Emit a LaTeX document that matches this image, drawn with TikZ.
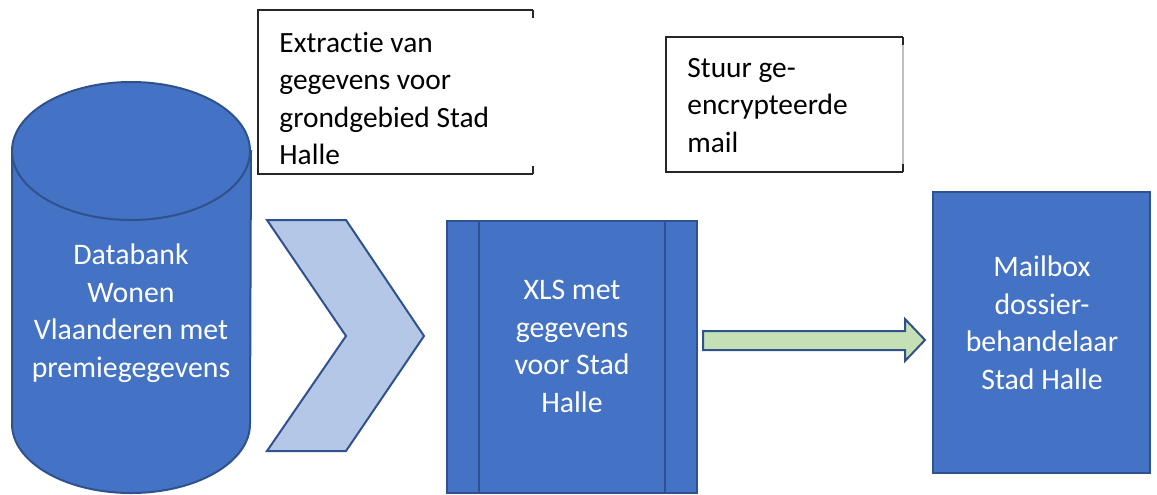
\documentclass[tikz,border=0pt]{standalone}
\usepackage{fontspec}
\setmainfont{Carlito}[Ligatures = CommonOff]
\definecolor{boxblue}{HTML}{4472C4}
\definecolor{edgeblue}{HTML}{2F528F}
\definecolor{chevfill}{HTML}{B4C7E7}
\definecolor{arrowfill}{HTML}{C5E0B4}
\definecolor{boxgray}{HTML}{262626}
\begin{document}
\begin{tikzpicture}[x = 0.5pt, y = -0.5pt,
    bluething/.style = {fill = boxblue, draw = edgeblue, line width = 1pt},
    boxline/.style = {draw = boxgray, line width = 0.75pt},
    whitetext/.style = {text = white, align = center, inner sep = 0pt,
        font = \fontsize{14.9}{18.75}\selectfont},
    blacktext/.style = {anchor = west, align = left, inner sep = 0pt,
        font = \fontsize{14.7}{18.75}\selectfont}]
        \useasboundingbox (0, 0) rectangle (1157, 494);
        % databank
        \draw [bluething] (12, 151) -- (12, 424)
            arc [start angle = 180, end angle = 360, x radius = 59.5pt, y radius = 34.5pt]
            -- (251, 151) -- cycle;
        \draw [bluething] (131, 151) ellipse [x radius = 59.5pt, y radius = 34.5pt];
        \node [whitetext] (databank) at (131, 313) {Databank\\Wonen\\Vlaanderen met\\premiegegevens};
        % extractie
        \draw [fill = chevfill, draw = edgeblue, line width = 1pt]
            (267, 220) -- (346, 220) -- (424, 336) -- (346, 451) -- (267, 451) -- (346, 336) -- cycle;
        \draw [boxline] (533, 10) -- (258, 10) -- (258, 174) -- (533, 174);
        \draw [boxline] (533, 10) -- (533, 18);
        \draw [boxline] (533, 166) -- (533, 174);
        \node [blacktext] (extractie) at (279, 98.5) {Extractie van\\gegevens voor\\grondgebied Stad\\Halle};
        % xls
        \draw [bluething] (447, 221) rectangle (697, 493);
        \draw [edgeblue, line width = 1pt] (479, 221) -- (479, 493);
        \draw [edgeblue, line width = 1pt] (665, 221) -- (665, 493);
        \node [whitetext] (xls) at (572, 346.5) {XLS met\\gegevens\\voor Stad\\Halle};
        % mail
        \draw [fill = arrowfill, draw = edgeblue, line width = 1pt]
            (703, 331) -- (905, 331) -- (905, 319) -- (925, 340) -- (905, 361) -- (905, 350) -- (703, 350) -- cycle;
        \draw [lightgray, line width = 0.6pt] (903, 37) -- (903, 172);
        \draw [boxline] (903, 37) -- (666, 37) -- (666, 172) -- (903, 172);
        \draw [boxline] (903, 37) -- (903, 45);
        \draw [boxline] (903, 164) -- (903, 172);
        \node [blacktext] (stuur) at (687, 105.5) {Stuur ge-\\encrypteerde\\mail};
        % mailbox
        \draw [bluething, line width = 1.2pt] (933, 192) rectangle (1150, 473);
        \node [whitetext] (mailbox) at (1042, 323) {Mailbox\\dossier-\\behandelaar\\Stad Halle};
    \end{tikzpicture}
\end{document}
